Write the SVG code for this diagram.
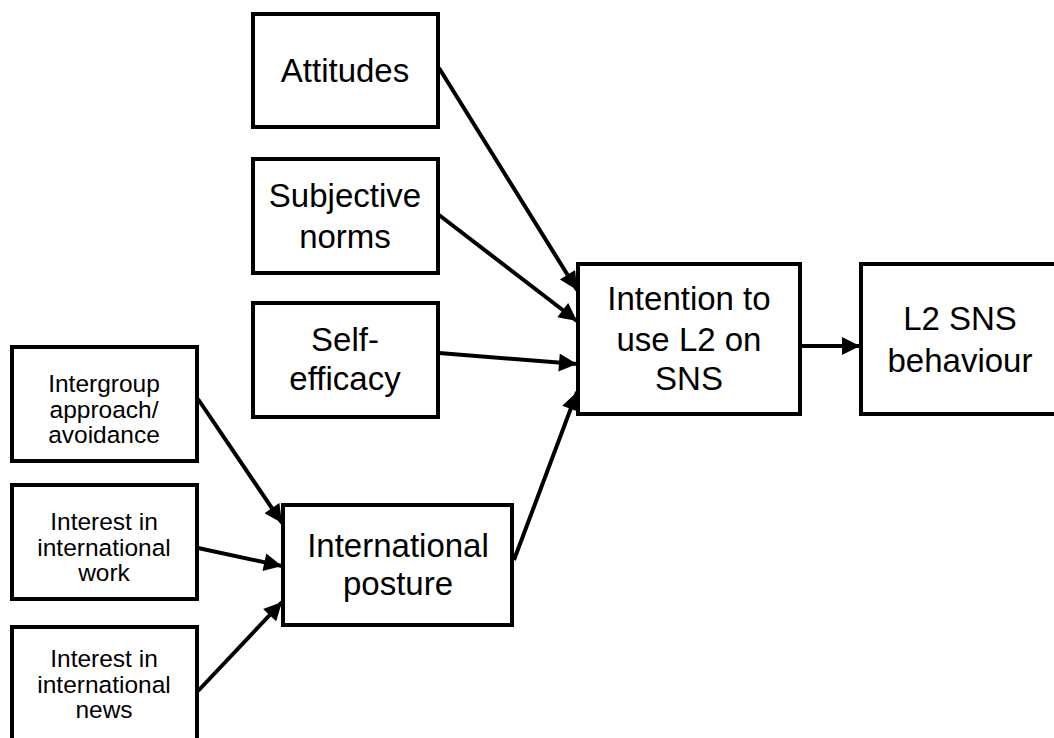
<svg xmlns="http://www.w3.org/2000/svg" width="1054" height="738" viewBox="0 0 1054 738">
  <style>
    .box { fill: #ffffff; stroke: #000000; stroke-width: 4; }
    .lbl { font-family: "Liberation Sans", Arial, Helvetica, sans-serif; font-size: 33px; fill: #000000; text-anchor: middle; }
    .sm { font-size: 24.5px; }
    .edge { stroke: #000000; stroke-width: 4; fill: none; marker-end: url(#arrow); }
  </style>
  <defs>
    <marker id="arrow" viewBox="0 0 10 10" refX="10" refY="5" markerWidth="5" markerHeight="4.5" markerUnits="strokeWidth" orient="auto">
      <path d="M0,0 L10,5 L0,10 Z" fill="#000000"/>
    </marker>
  </defs>
  <rect width="1054" height="738" fill="#ffffff"/>

  <!-- connectors -->
  <g id="connectors">
    <line class="edge" x1="439" y1="68" x2="577" y2="290"/>
    <line class="edge" x1="439" y1="215" x2="577" y2="321"/>
    <line class="edge" x1="439" y1="353" x2="577" y2="364"/>
    <line class="edge" x1="514" y1="560" x2="577" y2="392"/>
    <line class="edge" x1="802" y1="346" x2="860" y2="346"/>
    <line class="edge" x1="198" y1="399" x2="282" y2="523"/>
    <line class="edge" x1="198" y1="548" x2="282" y2="566"/>
    <line class="edge" x1="198" y1="691" x2="282" y2="602"/>
  </g>

  <!-- nodes -->
  <g id="attitudes">
    <rect class="box" x="253" y="14" width="185" height="113"/>
    <text class="lbl" x="345" y="82">Attitudes</text>
  </g>
  <g id="subjective-norms">
    <rect class="box" x="253" y="159" width="185" height="114"/>
    <text class="lbl" x="345" y="207">Subjective</text>
    <text class="lbl" x="345" y="248">norms</text>
  </g>
  <g id="self-efficacy">
    <rect class="box" x="253" y="303" width="185" height="114"/>
    <text class="lbl" x="345" y="351">Self-</text>
    <text class="lbl" x="345" y="390">efficacy</text>
  </g>
  <g id="intention">
    <rect class="box" x="578" y="264" width="222" height="150"/>
    <text class="lbl" x="689" y="310">Intention to</text>
    <text class="lbl" x="689" y="351">use L2 on</text>
    <text class="lbl" x="689" y="390">SNS</text>
  </g>
  <g id="behaviour">
    <rect class="box" x="861" y="264" width="210" height="150"/>
    <text class="lbl" x="960" y="330">L2 SNS</text>
    <text class="lbl" x="960" y="372">behaviour</text>
  </g>
  <g id="international-posture">
    <rect class="box" x="283" y="505" width="229" height="120"/>
    <text class="lbl" x="398" y="557">International</text>
    <text class="lbl" x="398" y="595">posture</text>
  </g>
  <g id="intergroup">
    <rect class="box" x="12" y="347" width="185" height="114"/>
    <text class="lbl sm" x="104" y="392">Intergroup</text>
    <text class="lbl sm" x="104" y="418">approach/</text>
    <text class="lbl sm" x="104" y="443">avoidance</text>
  </g>
  <g id="interest-work">
    <rect class="box" x="12" y="485" width="185" height="114"/>
    <text class="lbl sm" x="104" y="530">Interest in</text>
    <text class="lbl sm" x="104" y="556">international</text>
    <text class="lbl sm" x="104" y="581">work</text>
  </g>
  <g id="interest-news">
    <rect class="box" x="12" y="627" width="185" height="130"/>
    <text class="lbl sm" x="104" y="667">Interest in</text>
    <text class="lbl sm" x="104" y="693">international</text>
    <text class="lbl sm" x="104" y="718">news</text>
  </g>
</svg>
